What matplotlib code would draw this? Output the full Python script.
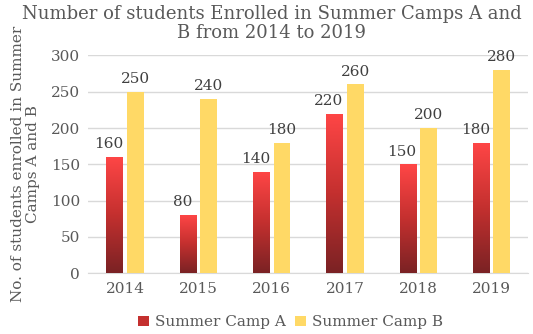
import numpy as np
import matplotlib.pyplot as plt
from matplotlib.colors import LinearSegmentedColormap
from matplotlib.patches import Patch

years = ['2014', '2015', '2016', '2017', '2018', '2019']
camp_a = [160, 80, 140, 220, 150, 180]
camp_b = [250, 240, 180, 260, 200, 280]

plt.rcParams['font.family'] = ['DejaVu Serif']
txt = '#595959'

fig = plt.figure(figsize=(5.33, 3.34), dpi=100)
ax = fig.add_axes([0.166, 0.182, 0.825, 0.652])

x = np.arange(len(years))
w = 0.23
off = 0.14

red_cmap = LinearSegmentedColormap.from_list('red', ['#7a2224', '#c4302f', '#ff4646'])
grad = np.linspace(0, 1, 256).reshape(-1, 1)

bars_a = ax.bar(x - off, camp_a, w, color='none', zorder=3)
for b in bars_a:
    im = ax.imshow(grad, cmap=red_cmap, origin='lower', aspect='auto',
                   extent=[b.get_x(), b.get_x() + b.get_width(), 0, b.get_height()], zorder=3)
    im.set_clip_path(b)
bars_b = ax.bar(x + off, camp_b, w, color='#ffd966', zorder=3)

for xi, v in zip(x, camp_a):
    ax.text(xi - off - 0.08, v + 8, str(v), ha='center', va='bottom', fontsize=11, color='#404040')
for xi, v in zip(x, camp_b):
    ax.text(xi + off, v + 8, str(v), ha='center', va='bottom', fontsize=11, color='#404040')

ax.set_xlim(-0.5, len(years) - 0.5)
ax.set_ylim(0, 300)
ax.set_aspect('auto')
ax.set_yticks(range(0, 301, 50))
ax.set_xticks(x)
ax.set_xticklabels(years)
ax.grid(axis='y', color='#d9d9d9', linewidth=1, zorder=0)
for s in ['top', 'right', 'left']:
    ax.spines[s].set_visible(False)
ax.spines['bottom'].set_color('#d9d9d9')
ax.tick_params(length=0, labelsize=11, colors=txt, pad=6)

ax.set_ylabel('No. of students enrolled in Summer\nCamps A and B', fontsize=11, color=txt,
              labelpad=8, linespacing=1.1)
fig.text(0.51, 0.985, 'Number of students Enrolled in Summer Camps A and\nB from 2014 to 2019',
         ha='center', va='top', fontsize=13, color=txt, linespacing=1.1)

handles = [Patch(facecolor='#c4302f'), Patch(facecolor='#ffd966')]
fig.legend(handles, ['Summer Camp A', 'Summer Camp B'], loc='center', bbox_to_anchor=(0.545, 0.035),
           ncol=2, frameon=False, fontsize=11, handlelength=0.7, handleheight=0.7,
           handletextpad=0.4, columnspacing=0.6, labelcolor=txt)

fig.savefig('out.png', dpi=100)
